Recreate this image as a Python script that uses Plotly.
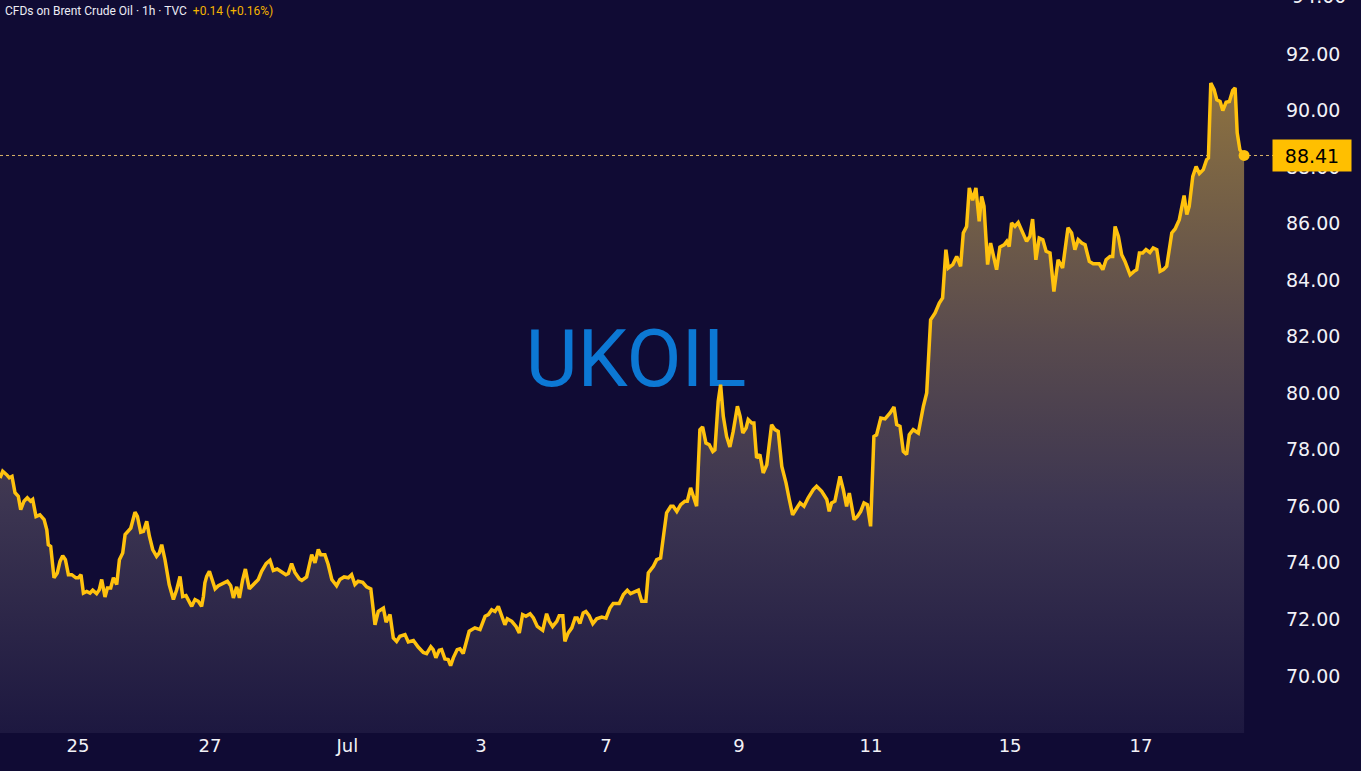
import plotly.graph_objects as go

# ---- data (hourly bar index, close price) ----
bar_index = [
    0, 0.9, 2.2, 3.1, 4.0, 4.4, 5.0, 6.1, 6.9, 8.0,
    9.1, 10.2, 10.9, 12.0, 13.3, 14.7, 15.6, 16.1, 16.9, 18.0,
    19.1, 20.0, 20.9, 21.8, 22.8, 23.9, 25.3, 26.1, 27.0, 27.8,
    28.9, 30.0, 30.9, 32.2, 33.1, 33.9, 35.0, 35.8, 36.9, 37.8,
    38.9, 39.8, 40.9, 41.7, 42.8, 43.6, 45.0, 45.8, 46.9, 47.8,
    48.9, 49.8, 50.9, 52.2, 53.1, 53.9, 55.0, 56.4, 57.8, 58.9,
    60.0, 60.9, 62.0, 62.8, 63.9, 65.0, 66.1, 67.2, 67.8, 68.3,
    68.9, 69.8, 70.9, 71.7, 72.8, 74.4, 75.8, 76.9, 77.8, 78.9,
    79.8, 80.9, 81.8, 83.1, 84.4, 86.1, 87.2, 88.7, 90.0, 91.1,
    92.4, 93.9, 95.3, 96.1, 97.2, 98.3, 99.8, 100.6, 102.2, 103.9,
    105.0, 106.1, 106.9, 108.3, 109.4, 110.6, 112.2, 113.3, 114.7, 116.1,
    117.2, 118.3, 119.4, 120.9, 122.2, 123.6, 125.0, 126.1, 127.8, 128.7,
    130.0, 131.1, 132.2, 133.3, 135.0, 136.1, 137.8, 139.4, 141.1, 142.2,
    143.6, 144.4, 145.3, 146.4, 147.2, 148.3, 149.4, 150.2, 151.1, 152.4,
    153.3, 154.4, 155.6, 156.4, 158.3, 160.0, 161.7, 162.8, 163.9, 165.0,
    166.1, 167.2, 168.3, 169.1, 170.6, 172.0, 173.1, 174.2, 175.3, 176.7,
    177.8, 179.1, 180.9, 182.2, 183.1, 184.2, 185.6, 186.4, 187.6, 188.3,
    189.4, 190.6, 191.7, 192.4, 193.3, 194.4, 195.3, 196.4, 197.6, 198.9,
    200.6, 202.0, 203.3, 204.4, 206.4, 207.8, 209.1, 210.2, 211.1, 212.8,
    213.9, 215.3, 216.1, 217.8, 218.9, 220.2, 221.3, 222.2, 223.6, 224.4,
    225.6, 226.9, 228.3, 229.1, 230.2, 231.3, 232.2, 233.3, 234.2, 235.3,
    236.4, 237.6, 238.3, 239.4, 240.2, 241.1, 242.2, 243.3, 244.4, 245.8,
    246.7, 247.6, 248.7, 249.4, 250.6, 251.3, 252.2, 253.3, 254.4, 255.6,
    257.2, 258.3, 259.4, 260.6, 262.0, 263.1, 264.2, 265.6, 266.7, 268.0,
    269.4, 271.1, 272.2, 273.9, 275.6, 276.4, 277.2, 278.3, 279.1, 280.0,
    281.1, 282.2, 283.1, 283.9, 284.7, 285.8, 286.9, 288.0, 289.1, 290.2,
    291.3, 292.2, 293.6, 295.0, 296.7, 298.0, 298.9, 300.0, 301.1, 302.2,
    303.1, 304.4, 306.1, 307.8, 308.9, 310.2, 311.7, 313.1, 314.2, 315.3,
    316.1, 317.6, 318.9, 320.2, 321.1, 322.2, 323.1, 324.2, 325.3, 326.4,
    327.2, 328.0, 329.2, 330.2, 331.1, 332.2, 333.3, 334.7, 335.6, 336.4,
    337.2, 338.3, 339.4, 340.9, 342.2, 343.3, 344.2, 345.3, 346.4, 347.6,
    348.7, 350.0, 351.3, 352.7, 354.2, 356.0, 357.2, 358.3, 359.4, 360.6,
    361.7, 363.1, 364.4, 366.4, 367.6, 368.7, 370.0, 370.9, 371.7, 372.8,
    373.9, 375.0, 376.7, 378.0, 378.9, 379.8, 380.9, 382.0, 383.3, 384.4,
    385.6, 386.7, 387.8, 388.9, 390.6, 391.7, 393.1, 394.7, 395.6, 396.4,
    397.6, 398.7, 399.8, 401.1, 402.2, 402.8, 403.6, 404.7, 405.6, 406.7,
    407.6, 408.7, 409.8, 410.9, 411.7, 412.4, 413.3, 414.7,
]

close_price = [
    77.00, 77.24, 77.12, 77.01, 77.06, 76.84, 76.48, 76.35, 75.88, 76.18,
    76.30, 76.18, 76.24, 75.64, 75.70, 75.53, 75.17, 74.64, 74.58, 73.47,
    73.64, 74.05, 74.25, 74.11, 73.58, 73.58, 73.47, 73.47, 73.58, 72.93,
    72.99, 72.93, 73.03, 72.91, 73.05, 73.41, 72.79, 73.11, 73.11, 73.47,
    73.23, 74.11, 74.35, 75.00, 75.11, 75.23, 75.79, 75.64, 75.08, 75.11,
    75.47, 74.94, 74.47, 74.23, 74.35, 74.64, 74.11, 73.23, 72.70, 73.05,
    73.52, 72.81, 72.84, 72.70, 72.46, 72.70, 72.64, 72.46, 72.81, 73.29,
    73.52, 73.70, 73.29, 73.08, 73.19, 73.29, 73.35, 73.19, 72.76, 73.15,
    72.76, 73.41, 73.78, 73.08, 73.23, 73.41, 73.70, 73.97, 74.09, 73.73,
    73.78, 73.66, 73.58, 73.62, 73.97, 73.66, 73.43, 73.38, 73.50, 74.29,
    74.00, 74.47, 74.29, 74.29, 73.94, 73.41, 73.19, 73.41, 73.50, 73.47,
    73.58, 73.23, 73.35, 73.31, 73.15, 73.08, 71.81, 72.28, 72.40, 71.90,
    72.17, 71.34, 71.22, 71.40, 71.46, 71.20, 71.25, 71.02, 70.83, 70.79,
    71.03, 70.93, 70.64, 70.91, 70.93, 70.60, 70.58, 70.36, 70.64, 70.93,
    70.96, 70.79, 71.28, 71.58, 71.70, 71.64, 72.11, 72.17, 72.34, 72.28,
    72.46, 72.17, 71.81, 72.02, 71.93, 71.75, 71.52, 72.17, 72.11, 72.20,
    72.05, 71.75, 71.61, 72.20, 71.93, 71.75, 71.93, 72.13, 72.13, 71.22,
    71.52, 71.70, 72.05, 72.05, 71.85, 72.23, 72.28, 72.13, 71.85, 72.02,
    72.08, 72.04, 72.40, 72.56, 72.56, 72.88, 73.03, 72.91, 72.96, 73.03,
    72.64, 72.64, 73.64, 73.88, 74.11, 74.17, 75.06, 75.77, 76.00, 76.00,
    75.82, 76.06, 76.18, 76.18, 76.65, 76.30, 76.00, 78.71, 78.81, 78.24,
    78.18, 77.94, 78.00, 79.71, 80.30, 79.18, 78.47, 78.10, 78.65, 79.54,
    79.18, 78.59, 78.77, 79.07, 78.95, 78.95, 77.71, 77.83, 77.18, 77.47,
    78.89, 78.71, 78.65, 77.41, 76.83, 76.24, 75.70, 75.94, 76.12, 76.00,
    76.30, 76.59, 76.71, 76.53, 76.24, 75.82, 76.12, 76.18, 76.59, 77.06,
    76.59, 76.00, 76.47, 76.00, 75.53, 75.64, 75.82, 76.12, 76.06, 75.29,
    78.47, 78.53, 79.12, 79.09, 79.30, 79.51, 78.89, 78.83, 77.94, 77.83,
    78.53, 78.71, 78.59, 79.54, 80.01, 82.60, 82.84, 83.19, 83.37, 85.08,
    84.43, 84.55, 84.84, 84.49, 85.67, 85.90, 87.26, 86.82, 87.26, 86.08,
    86.96, 86.61, 84.55, 85.31, 84.90, 84.37, 85.17, 85.25, 85.37, 85.19,
    86.02, 85.90, 86.04, 85.67, 85.37, 85.55, 86.16, 84.72, 85.49, 85.43,
    85.02, 84.96, 83.60, 84.72, 84.43, 85.85, 85.67, 85.08, 85.43, 85.31,
    85.25, 84.66, 84.58, 84.58, 84.37, 84.72, 84.84, 84.84, 85.90, 85.55,
    84.90, 84.66, 84.19, 84.31, 84.37, 84.96, 84.96, 85.08, 84.98, 85.14,
    85.08, 84.31, 84.37, 84.49, 85.67, 85.81, 86.14, 86.99, 86.32, 86.61,
    87.67, 88.02, 87.77, 87.91, 88.26, 88.32, 90.97, 90.74, 90.38, 90.32,
    90.00, 90.29, 90.32, 90.71, 90.80, 89.21, 88.61, 88.41,
]
assert len(bar_index) == len(close_price)

day_labels = ["25", "27", "Jul", "3", "7", "9", "11", "15", "17"]
day_positions = [26.0, 70.0, 115.8, 160.3, 202.0, 246.3, 290.3, 336.7, 380.3]

price_ticks = [70, 72, 74, 76, 78, 80, 82, 84, 86, 88, 90, 92]
top_tick = 94
last_price = close_price[-1]
title_text = "CFDs on Brent Crude Oil · 1h · TVC"
change_text = "+0.14 (+0.16%)"
symbol_text = "UKOIL"

# ---- style ----
BG = "#100b34"
LINE = "#ffc20e"
PLOT_W = 1285
PLOT_H = 733
X_MAX = PLOT_W / 3.0
Y_MIN, Y_MAX = 67.98, 93.91
TICK_FONT = dict(family="DejaVu Sans", size=19, color="#f2f2f7")

fig = go.Figure()

fig.add_trace(go.Scatter(
    x=[212], y=[80.95], mode="text", text=[symbol_text],
    textfont=dict(family="Roboto", size=80, color="#0c78d4"),
    textposition="middle center", hoverinfo="skip", showlegend=False,
))

fig.add_trace(go.Scatter(
    x=bar_index, y=close_price, mode="lines",
    line=dict(color=LINE, width=3.5),
    fill="tozeroy",
    fillgradient=dict(
        type="vertical", start=68, stop=91,
        colorscale=[
            [0.0, "#1d1840"],
            [0.35, "#3c3551"],
            [0.6, "#584a4e"],
            [0.85, "#796345"],
            [1.0, "#8e7240"],
        ],
    ),
    hoverinfo="skip", showlegend=False,
))

fig.add_trace(go.Scatter(
    x=[bar_index[-1]], y=[last_price], mode="markers",
    marker=dict(color=LINE, size=11), hoverinfo="skip", showlegend=False,
))

fig.add_shape(
    type="line", xref="paper", yref="y",
    x0=0, x1=1273 / PLOT_W, y0=last_price, y1=last_price,
    line=dict(color="rgba(240,200,110,0.9)", width=1, dash="dot"),
    layer="below",
)

fig.add_annotation(
    xref="paper", yref="y", x=1312 / PLOT_W, y=last_price,
    text=f"{last_price:.2f}", showarrow=False,
    font=dict(family="DejaVu Sans", size=19, color="#000000"),
    bgcolor="#ffbf00", width=78, height=31, borderpad=0,
    xanchor="center", yanchor="middle",
)

fig.add_annotation(
    xref="paper", yref="paper", x=1290 / PLOT_W, y=1 + 4 / PLOT_H,
    text=f"{top_tick:.2f}", showarrow=False,
    font=TICK_FONT, xanchor="left", yanchor="middle",
)

fig.add_annotation(
    xref="paper", yref="paper", x=0.002, y=1 - 11 / PLOT_H,
    text=f"{title_text}  <span style='color:#f5b400'>{change_text}</span>",
    showarrow=False, xanchor="left", yanchor="middle",
    font=dict(family="Roboto", size=12, color="#ececf4"),
)

fig.update_layout(
    width=1361, height=771,
    margin=dict(l=0, r=1361 - PLOT_W, t=0, b=771 - PLOT_H),
    paper_bgcolor=BG, plot_bgcolor=BG,
    showlegend=False,
    xaxis=dict(
        range=[0, X_MAX], showgrid=False, zeroline=False, showline=False,
        tickmode="array", tickvals=day_positions, ticktext=day_labels,
        ticks="", tickfont=dict(family="DejaVu Sans", size=18, color="#f2f2f7"),
        fixedrange=True,
    ),
    yaxis=dict(
        side="right", range=[Y_MIN, Y_MAX], showgrid=False, zeroline=False,
        showline=False, tickmode="array", tickvals=price_ticks,
        ticktext=[f"{v:.2f}" for v in price_ticks], ticks="",
        tickfont=TICK_FONT, fixedrange=True,
    ),
)

fig.write_html("out.html")
